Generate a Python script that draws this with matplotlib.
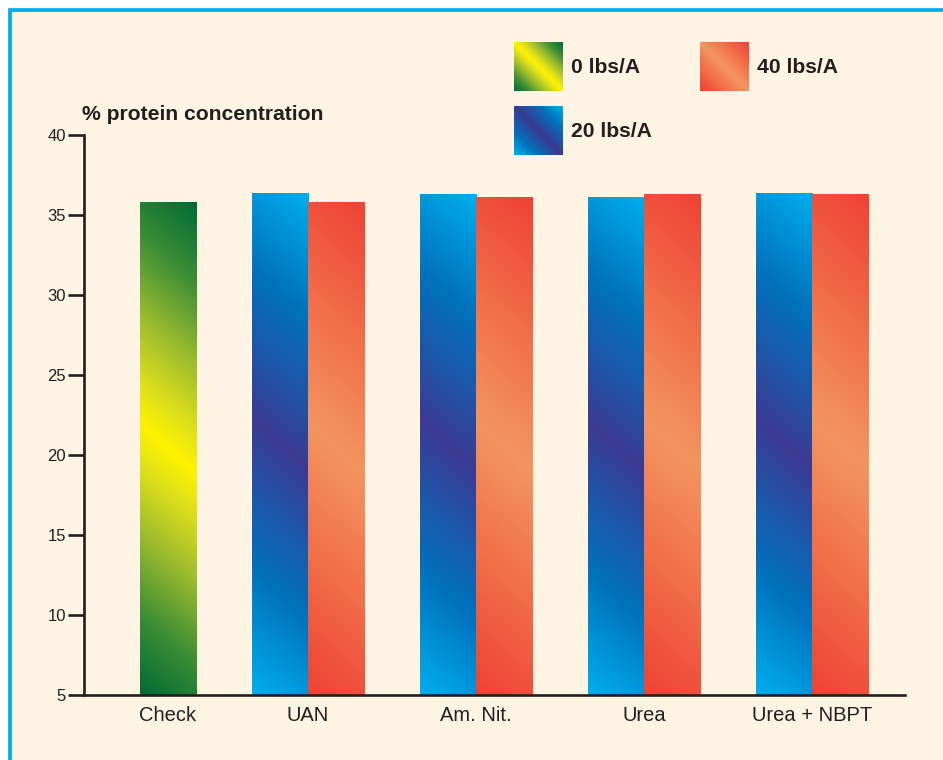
import matplotlib
matplotlib.use("Agg")
import matplotlib.pyplot as plt
import numpy as np
from matplotlib.colors import LinearSegmentedColormap
from matplotlib.patches import Rectangle

plt.rcParams['font.family'] = ['Liberation Sans', 'DejaVu Sans']

# protein concentration (%) by nitrogen source and rate
categories = ["Check", "UAN", "Am. Nit.", "Urea", "Urea + NBPT"]
check_0 = [35.8]
rate_20 = [36.4, 36.3, 36.1, 36.4]
rate_40 = [35.8, 36.1, 36.3, 36.3]
rate_labels = ["0 lbs/A", "20 lbs/A", "40 lbs/A"]
yticks = [5, 10, 15, 20, 25, 30, 35, 40]

INK = "#231f20"
CREAM = "#fdf4e3"

# edge -> middle colour ramps for the mirrored diagonal gradients
green = LinearSegmentedColormap.from_list("g", [(0, "#006b35"), (0.3, "#3d8e35"), (0.6, "#9cbb2e"),
                                                (0.85, "#dfe01a"), (1, "#fff200")])
blue = LinearSegmentedColormap.from_list("b", [(0, "#00aeef"), (0.45, "#0072bc"), (0.75, "#1f55a8"),
                                               (1, "#3b3a93")])
red = LinearSegmentedColormap.from_list("r", [(0, "#ef4136"), (0.5, "#f16c48"), (1, "#f3955f")])


def ramp(w, h, slope):
    # 0 at the two far corners, 1 along the middle diagonal band
    xx, yy = np.meshgrid(np.arange(w) + 0.5, np.arange(h) + 0.5)
    t = yy - slope * xx
    t = (t - t.min()) / (t.max() - t.min())
    return 1 - np.abs(2 * t - 1)


fig = plt.figure(figsize=(9.43, 7.6), dpi=100, facecolor="white")
W, H = 943, 760

# cream panel with blue frame on top and left
fig.patches.append(Rectangle((9.5 / W, -0.2), 1.3, 1.2 - 10 / H, transform=fig.transFigure,
                             facecolor=CREAM, edgecolor="#00aeef", linewidth=2.7, zorder=-5))

ax = fig.add_axes([84 / W, 1 - 695 / H, (905 - 84) / W, (695 - 135) / H])
ax.set_facecolor("none")
ax.set_xlim(0, 14.66)
ax.set_ylim(5, 40)

xc = np.array([4, 7, 10, 13])
b0 = ax.bar([1.5], np.array(check_0) - 5, bottom=5, width=1, color="#006b35", linewidth=0)
b20 = ax.bar(xc - 0.5, np.array(rate_20) - 5, bottom=5, width=1, color="#0072bc", linewidth=0)
b40 = ax.bar(xc + 0.5, np.array(rate_40) - 5, bottom=5, width=1, color="#ef4136", linewidth=0)

for bars, cmap in ((b0, green), (b20, blue), (b40, red)):
    for p in bars:
        x0, y0 = p.get_x(), p.get_y()
        x1, y1 = x0 + p.get_width(), y0 + p.get_height()
        (px0, py0), (px1, py1) = ax.transData.transform([(x0, y0), (x1, y1)])
        w, h = int(round(px1 - px0)), int(round(py1 - py0))
        im = ax.imshow(ramp(w, h, 0.88), cmap=cmap, vmin=0, vmax=1, extent=(x0, x1, y0, y1),
                       origin="upper", aspect="auto", interpolation="bilinear", zorder=3)
        im.set_clip_path(p)

ax.set_xlim(0, 14.66)
ax.set_ylim(5, 40)

for s in ("top", "right"):
    ax.spines[s].set_visible(False)
for s in ("left", "bottom"):
    ax.spines[s].set_color(INK)
    ax.spines[s].set_linewidth(1.9)
    ax.spines[s].set_zorder(4)

ax.set_yticks(yticks)
ax.set_yticklabels([str(v) for v in yticks])
ax.tick_params(axis="y", direction="out", length=11.5, width=1.9, color=INK, pad=1.5,
               labelsize=12, labelcolor=INK)
ax.set_xticks([1.5] + list(xc))
ax.set_xticklabels(categories)
ax.tick_params(axis="x", length=0, pad=8, labelsize=14.5, labelcolor=INK)

fig.text(82 / W, 1 - 120 / H, "% protein concentration", fontsize=15.2, fontweight="bold",
         color=INK, ha="left", va="baseline")

# legend swatches
swatches = [(514, 42, green, 0), (514, 106, blue, 1), (700, 42, red, 2)]
for sx, sy, cmap, k in swatches:
    lax = fig.add_axes([sx / W, 1 - (sy + 49) / H, 49 / W, 49 / H])
    lax.imshow(ramp(49, 49, 1.0), cmap=cmap, vmin=0, vmax=1, aspect="auto", interpolation="bilinear")
    lax.axis("off")
    fig.text((sx + 57) / W, 1 - (sy + 31) / H, rate_labels[k], fontsize=15.2, fontweight="bold",
             color=INK, ha="left", va="baseline")

fig.savefig("out.png", dpi=100, facecolor=fig.get_facecolor())
